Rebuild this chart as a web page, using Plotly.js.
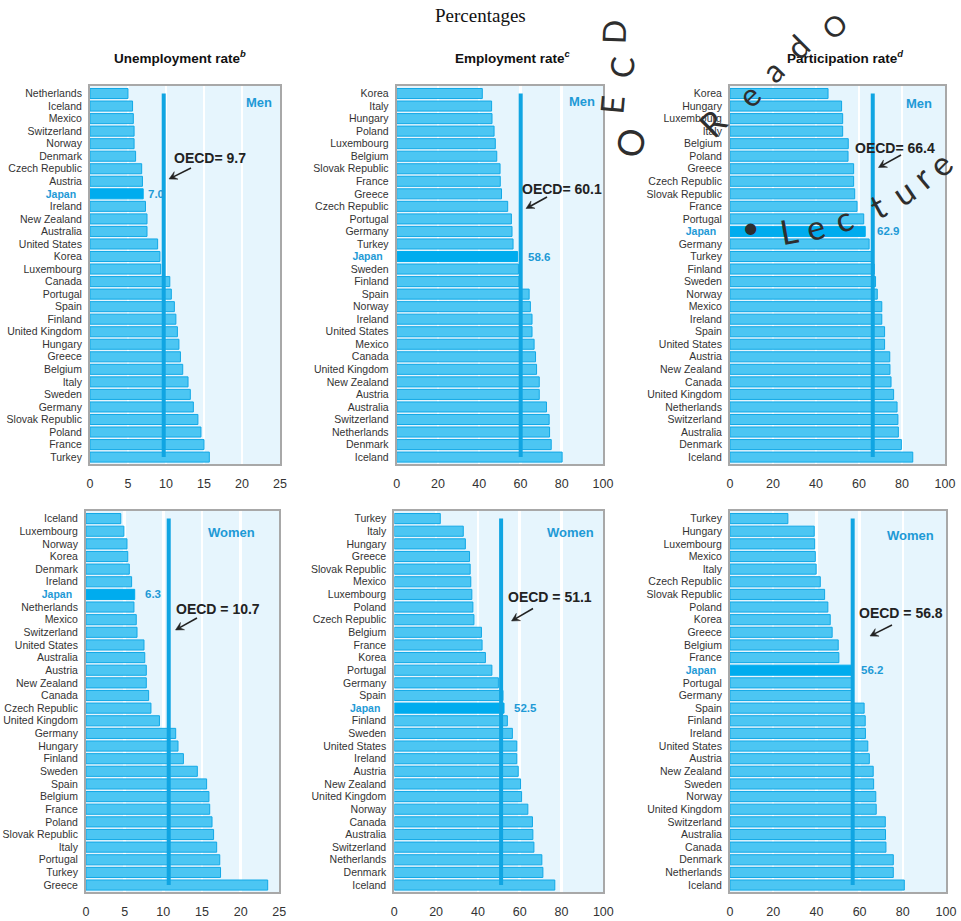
<!DOCTYPE html>
<html><head><meta charset="utf-8">
<script src="https://cdn.plot.ly/plotly-3.0.1.min.js"></script>
<style>html,body{margin:0;padding:0;background:#fff;}#chart{width:961px;height:921px;}</style>
</head><body><div id="chart"></div>
<script>
// ---- DATA ----
const unempMenCountries = ["Netherlands","Iceland","Mexico","Switzerland","Norway","Denmark","Czech Republic","Austria","Japan","Ireland","New Zealand","Australia","United States","Korea","Luxembourg","Canada","Portugal","Spain","Finland","United Kingdom","Hungary","Greece","Belgium","Italy","Sweden","Germany","Slovak Republic","Poland","France","Turkey"];
const unempMenValues = [5.0,5.6,5.7,5.8,5.8,6.0,6.8,6.9,7.0,7.3,7.5,7.5,8.9,9.2,9.3,10.5,10.7,11.1,11.3,11.5,11.7,11.9,12.2,12.9,13.2,13.6,14.2,14.6,15.0,15.7];
const unempMenOECD = 9.7;

const emplMenCountries = ["Korea","Italy","Hungary","Poland","Luxembourg","Belgium","Slovak Republic","France","Greece","Czech Republic","Portugal","Germany","Turkey","Japan","Sweden","Finland","Spain","Norway","Ireland","United States","Mexico","Canada","United Kingdom","New Zealand","Austria","Australia","Switzerland","Netherlands","Denmark","Iceland"];
const emplMenValues = [41.5,46.0,46.2,47.2,47.8,48.5,50.1,50.2,50.8,53.8,55.6,55.9,56.4,58.6,59.0,59.3,64.2,64.8,65.6,65.6,66.6,67.3,67.8,69.1,69.1,72.6,73.9,74.1,74.9,80.2];
const emplMenOECD = 60.1;

const partMenCountries = ["Korea","Hungary","Luxembourg","Italy","Belgium","Poland","Greece","Czech Republic","Slovak Republic","France","Portugal","Japan","Germany","Turkey","Finland","Sweden","Norway","Mexico","Ireland","Spain","United States","Austria","New Zealand","Canada","United Kingdom","Netherlands","Switzerland","Australia","Denmark","Iceland"];
const partMenValues = [45.6,51.9,52.4,52.4,55.0,54.9,57.5,57.5,58.0,59.1,62.2,62.9,64.7,65.9,67.1,67.7,68.5,70.6,70.6,71.9,71.9,74.3,74.4,74.9,76.1,77.7,78.1,78.3,79.7,85.0];
const partMenOECD = 66.4;

const unempWomenCountries = ["Iceland","Luxembourg","Norway","Korea","Denmark","Ireland","Japan","Netherlands","Mexico","Switzerland","United States","Australia","Austria","New Zealand","Canada","Czech Republic","United Kingdom","Germany","Hungary","Finland","Sweden","Spain","Belgium","France","Poland","Slovak Republic","Italy","Portugal","Turkey","Greece"];
const unempWomenValues = [4.5,4.9,5.3,5.4,5.6,5.9,6.3,6.2,6.5,6.6,7.5,7.6,7.8,7.8,8.1,8.4,9.5,11.6,11.9,12.6,14.4,15.6,15.9,16.0,16.3,16.5,16.9,17.3,17.4,23.5];
const unempWomenOECD = 10.7;

const emplWomenCountries = ["Turkey","Italy","Hungary","Greece","Slovak Republic","Mexico","Luxembourg","Poland","Czech Republic","Belgium","France","Korea","Portugal","Germany","Spain","Japan","Finland","Sweden","United States","Ireland","Austria","New Zealand","United Kingdom","Norway","Canada","Australia","Switzerland","Netherlands","Denmark","Iceland"];
const emplWomenValues = [22.0,33.0,34.0,36.0,36.3,36.6,37.1,37.6,38.1,41.7,42.0,43.6,46.7,49.8,52.0,52.5,54.1,56.5,58.6,58.6,59.3,60.4,60.9,63.9,66.1,66.3,66.8,70.6,71.1,76.8];
const emplWomenOECD = 51.1;

const partWomenCountries = ["Turkey","Hungary","Luxembourg","Mexico","Italy","Czech Republic","Slovak Republic","Poland","Korea","Greece","Belgium","France","Japan","Portugal","Germany","Spain","Finland","Ireland","United States","Austria","New Zealand","Sweden","Norway","United Kingdom","Switzerland","Australia","Canada","Denmark","Netherlands","Iceland"];
const partWomenValues = [26.8,39.0,39.2,39.5,39.9,41.8,43.8,45.3,46.4,47.3,50.1,50.4,56.2,56.3,56.4,62.1,62.6,62.7,63.8,64.5,66.3,66.5,67.5,67.7,71.9,72.0,72.2,75.6,75.6,80.7];
const partWomenOECD = 56.8;

const panelTitles = ["Unemployment rate<sup><i>b</i></sup>","Employment rate<sup><i>c</i></sup>","Participation rate<sup><i>d</i></sup>"];
const sexLabels = ["Men","Women"];
const mainTitle = "Percentages";
const highlight = "Japan";
const watermarkLetters = ["O","E","C","D","R","e","a","d","O","•","L","e","c","t","u","r","e"];

// ---- STYLE / LAYOUT ----
const W = 961, H = 921;
const px = v => v / W, py = v => 1 - v / H;
const BAR = "#4CC6F3", BAR_LINE = "#12A8E6", JP = "#00ACEE", LINE = "#10A5E2", BLUE_TXT = "#1E9AD6", TXT = "#333333";
const FONT = "Liberation Sans, Arial, sans-serif";

const panels = [
  {c: unempMenCountries, v: unempMenValues, o: unempMenOECD, max: 25, dt: 5, xd: [90, 280], yd: [86, 464], sex: 0,
   oecdTxt: "OECD= ", txt: [172, 158], tail: [191, 168], tip: [169, 179], lab: [259, 102], jshift: 3},
  {c: emplMenCountries, v: emplMenValues, o: emplMenOECD, max: 100, dt: 20, xd: [396.7, 603], yd: [86, 464], sex: 0,
   oecdTxt: "OECD= ", txt: [520, 189], tail: [547, 197], tip: [526, 208.5], lab: [582, 101], jshift: 8},
  {c: partMenCountries, v: partMenValues, o: partMenOECD, max: 100, dt: 20, xd: [730, 945], yd: [86, 464], sex: 0,
   oecdTxt: "OECD= ", txt: [853, 148], tail: [901, 155], tip: [878.5, 167.5], lab: [919, 103], jshift: 10},
  {c: unempWomenCountries, v: unempWomenValues, o: unempWomenOECD, max: 25, dt: 5, xd: [86, 279.3], yd: [511, 892], sex: 1,
   oecdTxt: "OECD = ", txt: [174, 609], tail: [197, 618], tip: [175.5, 630], lab: [231, 532], jshift: 8},
  {c: emplWomenCountries, v: emplWomenValues, o: emplWomenOECD, max: 100, dt: 20, xd: [394.3, 603.3], yd: [511, 892], sex: 1,
   oecdTxt: "OECD = ", txt: [505.5, 597], tail: [533, 608.5], tip: [511.5, 621], lab: [570, 532], jshift: 8},
  {c: partWomenCountries, v: partWomenValues, o: partWomenOECD, max: 100, dt: 20, xd: [730, 946], yd: [511, 892], sex: 1,
   oecdTxt: "OECD = ", txt: [856.5, 613], tail: [892, 625], tip: [870, 636], lab: [910, 535], jshift: 8}
];

// watermark letter placements (centre px, rotation, size)
const wmPlace = [
  [630,143,-80,36],[611,105,-85,32],[621,68,-85,32],[613,32,-88,32],
  [712,122,-45,34],[748,95,-45,32],[772,70,-45,32],[797,46,-45,32],[834,26,-45,28],
  [750,226,0,30],[788,230,-10,34],[815,226,-15,34],[843,218,-22,34],[877,205,-28,34],[903,192,-34,34],[922,177,-40,34],[940,164,-45,34]
];

const data = [];
const layout = {
  width: W, height: H, margin: {l: 0, r: 0, t: 0, b: 0},
  paper_bgcolor: "#ffffff", plot_bgcolor: "#E6F5FD",
  showlegend: false, bargap: 0.2,
  font: {family: FONT, color: TXT},
  annotations: [], shapes: []
};

panels.forEach((p, i) => {
  const k = i === 0 ? "" : String(i + 1);
  const xa = "x" + k, ya = "y" + k;
  const colors = p.c.map(c => c === highlight ? JP : BAR);
  const lcolors = p.c.map(c => c === highlight ? JP : BAR_LINE);
  data.push({type: "bar", orientation: "h", x: p.v, y: p.c, xaxis: xa, yaxis: ya,
    marker: {color: colors, line: {color: lcolors, width: 1}}, hoverinfo: "x+y"});
  data.push({type: "scatter", mode: "lines", x: [p.o, p.o], y: [p.c[0], p.c[p.c.length - 1]],
    xaxis: xa, yaxis: ya, line: {color: LINE, width: 4}, hoverinfo: "skip"});
  const ticktext = p.c.map(c => c === highlight
    ? "<span style='color:" + BLUE_TXT + ";font-weight:bold'>" + c + "\u00a0\u00a0</span>" : c);
  layout["xaxis" + k] = {domain: [px(p.xd[0]), px(p.xd[1])], range: [0, p.max], dtick: p.dt, tick0: 0,
    anchor: ya, showgrid: true, gridcolor: "#ffffff", gridwidth: 2.5, zeroline: false,
    showline: true, linecolor: "#A8A8A8", linewidth: 2, mirror: true, ticks: "",
    ticklabelstandoff: 7, tickfont: {size: 12.5, color: TXT, family: FONT}, fixedrange: true};
  layout["yaxis" + k] = {domain: [py(p.yd[1]), py(p.yd[0])], type: "category",
    range: [p.c.length - 0.45, -0.6], anchor: xa, showgrid: false, zeroline: false,
    showline: true, linecolor: "#A8A8A8", linewidth: 2, mirror: true, ticks: "",
    tickvals: p.c, ticktext: ticktext, ticklabelstandoff: 4,
    tickfont: {size: 10.5, color: TXT, family: FONT}, fixedrange: true};
  // OECD label
  layout.annotations.push({xref: "paper", yref: "paper", x: px(p.txt[0]), y: py(p.txt[1]),
    xanchor: "left", yanchor: "middle", showarrow: false,
    text: "<b>" + p.oecdTxt + p.o.toFixed(1) + "</b>", font: {size: 14, color: "#222", family: FONT}});
  // arrow as shapes
  const dx = p.tip[0] - p.tail[0], dy = p.tip[1] - p.tail[1];
  const len = Math.hypot(dx, dy), ux = dx / len, uy = dy / len, nx = -uy, ny = ux;
  const L = 8, Wd = 4.2;
  const bx = p.tip[0] - ux * L, by = p.tip[1] - uy * L;
  const mx = p.tip[0] - ux * L * 0.6, my = p.tip[1] - uy * L * 0.6;
  layout.shapes.push({type: "line", xref: "paper", yref: "paper",
    x0: px(p.tail[0]), y0: py(p.tail[1]), x1: px(mx), y1: py(my), line: {color: "#222", width: 1.6}});
  const pts = [[p.tip[0], p.tip[1]], [bx + nx * Wd, by + ny * Wd], [mx, my], [bx - nx * Wd, by - ny * Wd]];
  layout.shapes.push({type: "path", xref: "paper", yref: "paper",
    path: "M " + pts.map(q => px(q[0]) + " " + py(q[1])).join(" L ") + " Z",
    fillcolor: "#222", line: {color: "#222", width: 0.5}});
  // Men / Women label
  layout.annotations.push({xref: "paper", yref: "paper", x: px(p.lab[0]), y: py(p.lab[1]),
    xanchor: "center", yanchor: "middle", showarrow: false,
    text: "<b>" + sexLabels[p.sex] + "</b>", font: {size: 13, color: BLUE_TXT, family: FONT}});
  // Japan value
  const ji = p.c.indexOf(highlight);
  layout.annotations.push({xref: xa, yref: ya, x: p.v[ji], y: p.c[ji], xanchor: "left", yanchor: "middle",
    xshift: p.jshift, showarrow: false, text: "<b>" + p.v[ji].toFixed(1) + "</b>",
    font: {size: 11.5, color: BLUE_TXT, family: FONT}});
});

// panel titles
[180, 513, 845].forEach((cx, j) => {
  layout.annotations.push({xref: "paper", yref: "paper", x: px(cx), y: py(57), xanchor: "center", yanchor: "middle",
    showarrow: false, text: "<b>" + panelTitles[j] + "</b>", font: {size: 13.5, color: "#111", family: FONT}});
});
// main title
layout.annotations.push({xref: "paper", yref: "paper", x: px(481), y: py(15), xanchor: "center", yanchor: "middle",
  showarrow: false, text: mainTitle, font: {size: 19, color: "#111", family: "Liberation Serif, Times New Roman, serif"}});

// watermark
watermarkLetters.forEach((ch, j) => {
  const w = wmPlace[j];
  layout.annotations.push({xref: "paper", yref: "paper", x: px(w[0]), y: py(w[1]), xanchor: "center", yanchor: "middle",
    showarrow: false, text: ch, textangle: w[2],
    font: {size: w[3], color: "#2e2e2e", family: "Lato, DejaVu Sans, sans-serif"}});
});

Plotly.newPlot("chart", data, layout, {displayModeBar: false, staticPlot: true});
</script>
</body></html>
